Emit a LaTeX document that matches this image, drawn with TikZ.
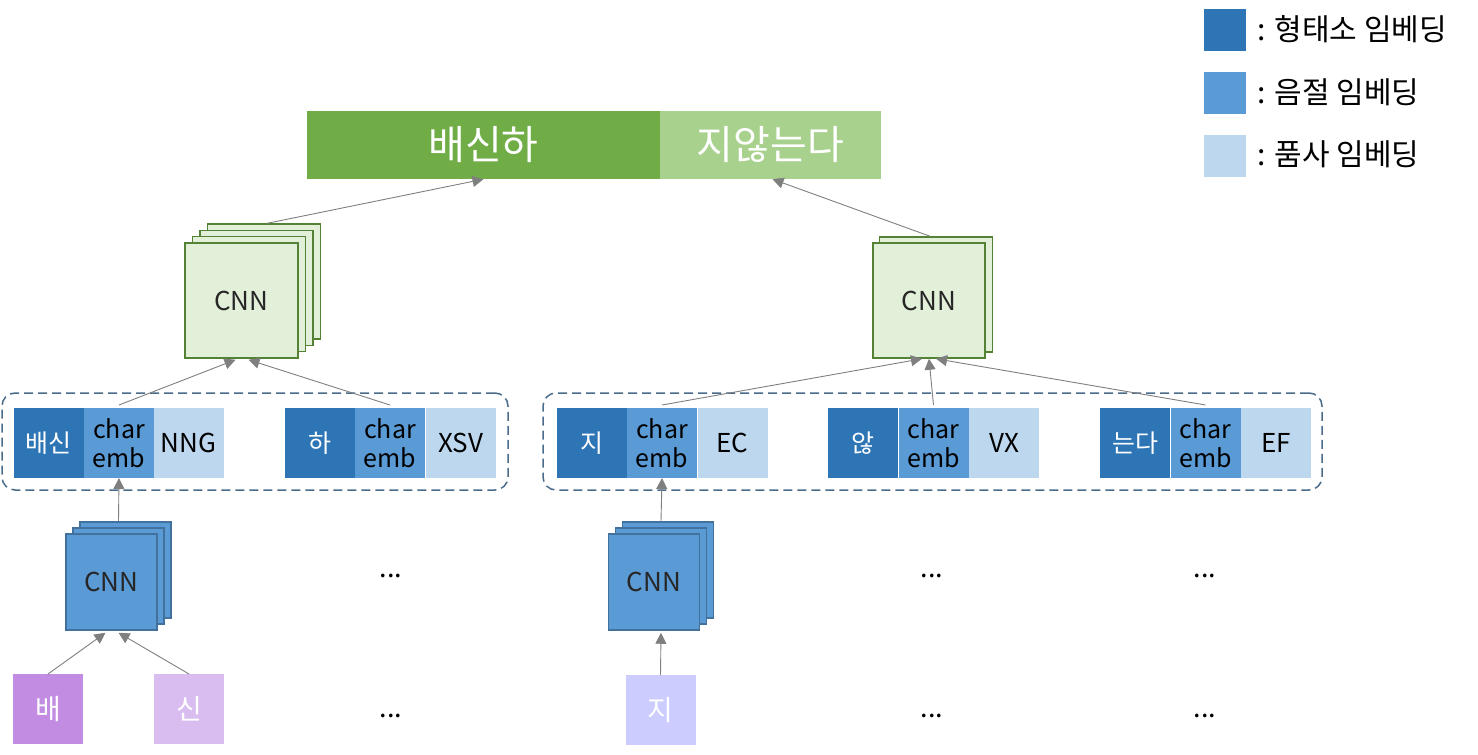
\documentclass[tikz,border=0pt]{standalone}
\usepackage{fontspec}
\setmainfont{Noto Sans CJK KR}
\usetikzlibrary{arrows.meta}
\definecolor{gdark}{HTML}{70AD47}
\definecolor{glight}{HTML}{A9D18E}
\definecolor{gfill}{HTML}{E2F0D9}
\definecolor{gline}{HTML}{548235}
\definecolor{bdark}{HTML}{2E75B6}
\definecolor{bmid}{HTML}{5B9BD5}
\definecolor{blight}{HTML}{BDD7EE}
\definecolor{bline}{HTML}{41719C}
\definecolor{dashcol}{HTML}{4A6B8A}
\definecolor{arrcol}{HTML}{7F7F7F}
\definecolor{pdark}{HTML}{C18CE1}
\definecolor{plight}{HTML}{D9BDF0}
\definecolor{plav}{HTML}{CCCCFF}
\definecolor{txtdark}{HTML}{262626}
\newcommand\fsz[2]{\fontsize{#1pt}{#2pt}\selectfont}
\begin{document}
\begin{tikzpicture}[x=1pt,y=-1pt,
  cell/.style={minimum width=70pt,minimum height=70pt,inner sep=0pt,outer sep=0pt,align=center},
  morph/.style={cell,fill=bdark,text=white,font=\fsz{25}{29}},
  syl/.style={cell,fill=bmid,text=black,font=\fsz{25}{29}},
  posc/.style={cell,fill=blight,text=black,font=\fsz{26}{29}},
  chr/.style={cell,text=white,font=\fsz{28}{32}},
  cnng/.style={draw=gline,line width=1.5pt,fill=gfill,minimum width=113pt,minimum height=115pt,inner sep=0pt,text=txtdark,font=\fsz{26}{30}},
  cnnb/.style={draw=bline,line width=1.5pt,fill=bmid,minimum width=91pt,minimum height=96pt,inner sep=0pt,text=txtdark,font=\fsz{26}{30}},
  grp/.style={draw=dashcol,line width=1.5pt,dash pattern=on 9pt off 5pt,rounded corners=13pt,minimum height=97pt,inner sep=0pt},
  arr/.style={draw=arrcol,line width=0.9pt,-{Triangle[length=11pt,width=11pt]}},
  dots/.style={font=\fsz{27}{30},text=black},
  legsq/.style={minimum width=42pt,minimum height=42pt,inner sep=0pt},
  legtx/.style={anchor=west,font=\fsz{30}{34},text=black,inner sep=0pt}
]
\useasboundingbox (0,0) rectangle (1478,755);

% top bar
\node[fill=gdark,minimum width=353pt,minimum height=68pt,inner sep=0pt,text=white,font=\fsz{40}{44}] (topL) at (483.5,145) {배신하};
\node[fill=glight,minimum width=221pt,minimum height=68pt,inner sep=0pt,text=white,font=\fsz{40}{44}] (topR) at (770.5,145) {지않는다};

% upper CNNs
\node[cnng] (cnnUb3) at (264,281.6) {};
\node[cnng] (cnnUb2) at (256.5,287.9) {};
\node[cnng] (cnnUb1) at (249,294.2) {};
\node[cnng] (cnnU) at (241.5,300.5) {CNN};
\node[cnng] (cnnRUb1) at (936,294.5) {};
\node[cnng,minimum width=112pt] (cnnRU) at (929,300.5) {CNN};

% groups
\node[grp,minimum width=506pt] (grpL) at (255,441.5) {};
\node[grp,minimum width=779pt] (grpR) at (932.5,441.5) {};

% cells left
\node[morph] (mL1) at (48.5,443) {배신};
\node[syl] (cL1) at (119,443) {char\\emb};
\node[posc] (pL1) at (188.5,443) {NNG};
\node[morph] (mL2) at (320,443) {하};
\node[syl] (cL2) at (390,443) {char\\emb};
\node[posc] (pL2) at (460.5,443) {XSV};
% cells right
\node[morph] (mR1) at (592,443) {지};
\node[syl] (cR1) at (662,443) {char\\emb};
\node[posc] (pR1) at (732.5,443) {EC};
\node[morph] (mR2) at (863,443) {않};
\node[syl] (cR2) at (933.5,443) {char\\emb};
\node[posc] (pR2) at (1004,443) {VX};
\node[morph] (mR3) at (1135,443) {는다};
\node[syl] (cR3) at (1205.5,443) {char\\emb};
\node[posc] (pR3) at (1276,443) {EF};

% lower CNNs
\node[cnnb] (cnnLb2) at (125.5,570) {};
\node[cnnb] (cnnLb1) at (118.5,576) {};
\node[cnnb] (cnnL) at (111.5,582) {CNN};
\node[cnnb] (cnnRb2) at (668,570) {};
\node[cnnb] (cnnRb1) at (661,576) {};
\node[cnnb] (cnnR) at (654,582) {CNN};

% characters
\node[chr,fill=pdark] (ch1) at (48,709) {배};
\node[chr,fill=plight] (ch2) at (189,709) {신};
\node[chr,fill=plav] (ch3) at (660.5,710) {지};

% dots
\node[dots] (d1) at (391,576) {...};
\node[dots] (d2) at (932,576) {...};
\node[dots] (d3) at (1205,576) {...};
\node[dots] (d4) at (391,716) {...};
\node[dots] (d5) at (932,716) {...};
\node[dots] (d6) at (1205,716) {...};

% legend
\node[legsq,fill=bdark] (lg1) at (1225,30) {};
\node[legsq,fill=bmid] (lg2) at (1225,93) {};
\node[legsq,fill=blight] (lg3) at (1225,155.5) {};
\node[legtx] (lt1) at (1257,29) {: 형태소 임베딩};
\node[legtx] (lt2) at (1257,92) {: 음절 임베딩};
\node[legtx] (lt3) at (1257,154) {: 품사 임베딩};

% arrows
\draw[arr] (ch1.north) -- ([xshift=-6pt,yshift=-2pt]cnnL.south);
\draw[arr] (ch2.north) -- ([xshift=7pt,yshift=-2pt]cnnL.south);
\draw[arr] (ch3.north) -- ([xshift=7pt,yshift=-2pt]cnnR.south);
\draw[arr] ([xshift=-7pt]cnnLb2.north) -- (cL1.south);
\draw[arr] ([xshift=-7pt]cnnRb2.north) -- (cR1.south);
\draw[arr] ([yshift=3pt]cL1.north) -- ([xshift=-6pt,yshift=-1pt]cnnU.south);
\draw[arr] ([yshift=3pt]cL2.north) -- ([xshift=7pt,yshift=-1pt]cnnU.south);
\draw[arr] ([yshift=3pt]cR1.north) -- ([xshift=-7pt]cnnRU.south);
\draw[arr] ([yshift=3pt]cR2.north) -- (cnnRU.south);
\draw[arr] ([yshift=3pt]cR3.north) -- ([xshift=7pt]cnnRU.south);
\draw[arr] ([xshift=3pt]cnnUb3.north) -- (topL.south);
\draw[arr] ([xshift=-6pt]cnnRUb1.north) -- ([xshift=2pt]topR.south);
\end{tikzpicture}
\end{document}
